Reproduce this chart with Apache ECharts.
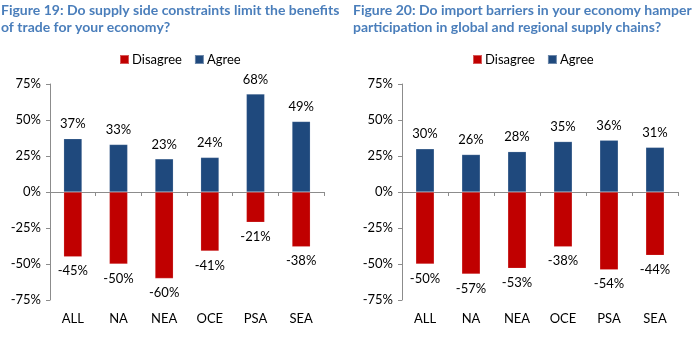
<!DOCTYPE html>
<html>
<head>
<meta charset="utf-8">
<script src="https://cdn.jsdelivr.net/npm/echarts@6/dist/echarts.min.js"></script>
<style>
  html, body { margin: 0; padding: 0; background: #fff; }
  #chart { width: 700px; height: 344px; }
</style>
</head>
<body>
<div id="chart"></div>
<script>
// Survey regions shared by both panels
const regions = ['ALL', 'NA', 'NEA', 'OCE', 'PSA', 'SEA'];

// Figure 19: supply side constraints (percent)
const fig19Agree = [37, 33, 23, 24, 68, 49];
const fig19Disagree = [-45, -50, -60, -41, -21, -38];

// Figure 20: import barriers (percent)
const fig20Agree = [30, 26, 28, 35, 36, 31];
const fig20Disagree = [-50, -57, -53, -38, -54, -44];

const fig19Title = 'Figure 19: Do supply side constraints limit the benefits\nof trade for your economy?';
const fig20Title = 'Figure 20: Do import barriers in your economy hamper\nparticipation in global and regional supply chains?';

const FONT = 'Lato, "Open Sans", sans-serif';
const BLUE = '#1f497d';
const RED = '#c00000';
const AXIS = '#8c8c8c';

function xAxis(gridIndex) {
  return {
    type: 'category', gridIndex, data: regions,
    axisLine: { lineStyle: { color: AXIS } },
    axisTick: { show: true, length: 4, inside: false, lineStyle: { color: AXIS } },
    axisLabel: { color: '#000', fontFamily: FONT, fontSize: 13, margin: 12, interval: 0 },
    position: 'bottom'
  };
}
function yAxis(gridIndex) {
  return {
    type: 'value', gridIndex, min: -75, max: 75, interval: 25,
    axisLine: { show: true, lineStyle: { color: AXIS } },
    axisTick: { show: true, length: 4, lineStyle: { color: AXIS } },
    splitLine: { show: false },
    axisLabel: { color: '#000', fontFamily: FONT, fontSize: 13, margin: 9, formatter: '{value}%' }
  };
}
function bars(name, data, color, idx, pos) {
  return {
    name, type: 'bar', data, xAxisIndex: idx, yAxisIndex: idx, stack: 's' + idx,
    barWidth: '40%',
    itemStyle: { color, borderColor: 'rgba(255,255,255,0.35)', borderWidth: 0.5 },
    label: {
      show: true, position: pos, distance: 8, color: '#000',
      fontFamily: FONT, fontSize: 13, formatter: '{c}%'
    }
  };
}

const titleStyle = { color: '#4a7ebb', fontFamily: FONT, fontWeight: 'bold', fontSize: 14, lineHeight: 17 };
const legendText = { fontFamily: FONT, fontSize: 13, color: '#000', padding: [0, 0, 0, -2] };

const chart = echarts.init(document.getElementById('chart'), null, { renderer: 'canvas' });
chart.setOption({
  animation: false,
  title: [
    { text: fig19Title, left: 1, top: 2, padding: 0, textStyle: titleStyle },
    { text: fig20Title, left: 353, top: 2, padding: 0, textStyle: titleStyle }
  ],
  legend: [
    { data: ['Disagree', 'Agree'], left: 114, top: 48, itemWidth: 9, itemHeight: 9, itemGap: 12, icon: 'rect', textStyle: legendText },
    { data: ['Disagree', 'Agree'], left: 467, top: 48, itemWidth: 9, itemHeight: 9, itemGap: 12, icon: 'rect', textStyle: legendText }
  ],
  grid: [
    { left: 50, right: 376, top: 84, bottom: 44, outerBoundsMode: 'none' },
    { left: 402, right: 22, top: 84, bottom: 44, outerBoundsMode: 'none' }
  ],
  xAxis: [xAxis(0), xAxis(1)],
  yAxis: [yAxis(0), yAxis(1)],
  series: [
    bars('Disagree', fig19Disagree, RED, 0, 'bottom'),
    bars('Agree', fig19Agree, BLUE, 0, 'top'),
    bars('Disagree', fig20Disagree, RED, 1, 'bottom'),
    bars('Agree', fig20Agree, BLUE, 1, 'top')
  ]
});
</script>
</body>
</html>
